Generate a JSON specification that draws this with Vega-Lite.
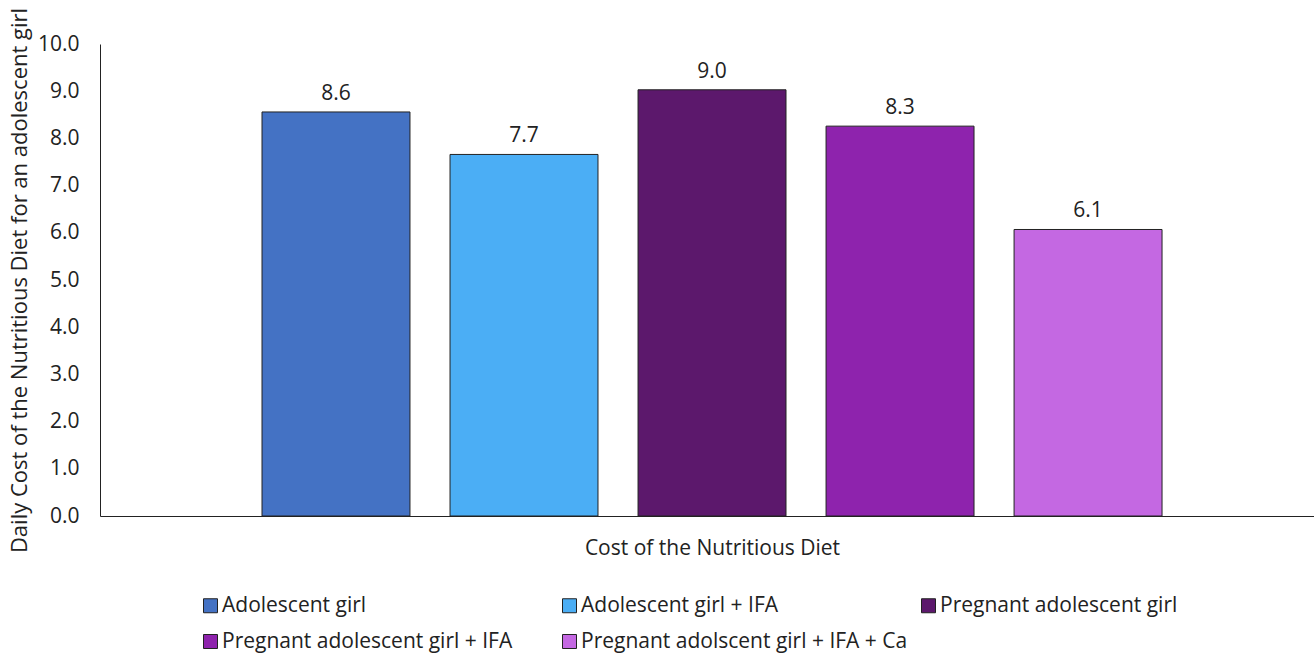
{
  "$schema": "https://vega.github.io/schema/vega-lite/v6.json",
  "autosize": {"type": "none"},
  "width": 1214,
  "height": 472,
  "padding": {"left": 100, "top": 44, "right": 0, "bottom": 137},
  "background": "white",
  "config": {
    "font": "Open Sans",
    "view": {"stroke": null},
    "axis": {"labelFont": "Open Sans", "titleFont": "Open Sans", "labelColor": "#222", "titleColor": "#222", "domainColor": "#222", "grid": false}
  },
  "data": {
    "values": [
      {"series": "Adolescent girl", "value": 8.56},
      {"series": "Adolescent girl + IFA", "value": 7.66},
      {"series": "Pregnant adolescent girl", "value": 9.03},
      {"series": "Pregnant adolescent girl + IFA", "value": 8.26},
      {"series": "Pregnant adolscent girl + IFA + Ca", "value": 6.07}
    ]
  },
  "encoding": {
    "x": {
      "field": "series",
      "type": "nominal",
      "sort": null,
      "scale": {"paddingInner": 0.213, "paddingOuter": 0.835, "align": 0.516},
      "axis": {"title": "Cost of the Nutritious Diet", "labels": false, "ticks": false, "tickSize": 0, "titleFontSize": 21, "titleFontWeight": "normal", "titlePadding": 21, "titleX": 612, "domainWidth": 1}
    },
    "y": {
      "field": "value",
      "type": "quantitative",
      "scale": {"domain": [0, 10], "nice": false},
      "axis": {"title": "Daily Cost of the Nutritious Diet for an adolescent girl", "format": ".1f", "values": [0,1,2,3,4,5,6,7,8,9,10], "labelOverlap": false, "ticks": false, "tickSize": 0, "labelPadding": 21, "labelFontSize": 21, "titleFontSize": 22, "titleFontWeight": "normal", "titlePadding": 6, "domainWidth": 1}
    }
  },
  "layer": [
    {
      "mark": {"type": "bar", "stroke": "#222", "strokeWidth": 1},
      "encoding": {
        "color": {
          "field": "series",
          "type": "nominal",
          "sort": null,
          "scale": {
            "domain": ["Adolescent girl", "Adolescent girl + IFA", "Pregnant adolescent girl", "Pregnant adolescent girl + IFA", "Pregnant adolscent girl + IFA + Ca"],
            "range": ["#4472C4", "#4BAEF5", "#5C186C", "#8E23AD", "#C468E2"]
          },
          "legend": {
            "title": null,
            "orient": "none",
            "legendX": 100,
            "legendY": 551,
            "direction": "horizontal",
            "columns": 3,
            "gridAlign": "all",
            "columnPadding": 10,
            "rowPadding": 14,
            "symbolType": "square",
            "symbolSize": 196,
            "symbolStrokeColor": "#222",
            "symbolStrokeWidth": 1,
            "labelFontSize": 21,
            "labelColor": "#222",
            "labelFont": "Open Sans",
            "labelLimit": 400,
            "labelOffset": 1
          }
        }
      }
    },
    {
      "mark": {"type": "text", "baseline": "bottom", "dy": -8, "fontSize": 21, "color": "#222"},
      "encoding": {
        "text": {"field": "value", "type": "quantitative", "format": ".1f"}
      }
    }
  ]
}
